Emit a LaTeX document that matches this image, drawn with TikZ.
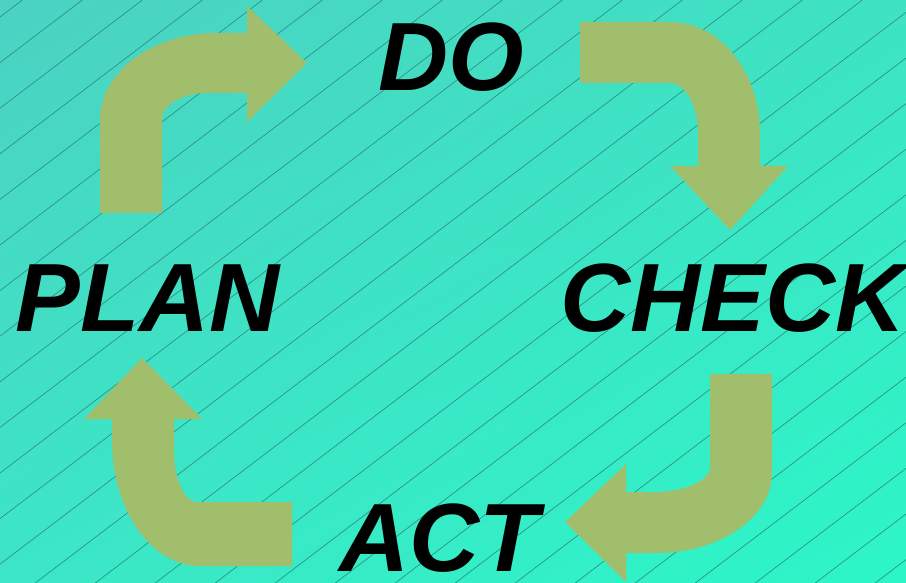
\documentclass[tikz,border=0pt]{standalone}
\usepackage{fontspec}
\usetikzlibrary{shadings}
\setmainfont{Liberation Sans}
\definecolor{bgTL}{HTML}{4BD2C2}
\definecolor{bgTR}{HTML}{3EE3C3}
\definecolor{bgBL}{HTML}{3CE6C6}
\definecolor{bgBR}{HTML}{2CF6C8}
\definecolor{arrowc}{HTML}{A1BE6C}
\definecolor{linec}{HTML}{2A8A80}
\tikzset{
  lbl/.style={anchor=base, inner sep=0pt, text depth=0pt, font=\fontsize{97}{97}\selectfont\bfseries\itshape, text=black},
  bgline/.style={draw=linec, line width=0.6pt},
  bigarrow/.style={fill=arrowc, draw=none}
}
\begin{document}
\begin{tikzpicture}[x=1pt,y=-1pt]
\useasboundingbox (0,0) rectangle (906,583);
\shade[upper left=bgTL, upper right=bgTR, lower left=bgBL, lower right=bgBR] (0,0) rectangle (906,583);
\begin{scope}
\clip (0,0) rectangle (906,583);
\foreach \k in {0,...,28} \draw[bgline] (0,{17+45.6*\k}) -- (906,{17+45.6*\k-688.6});
\end{scope}
% top-left arrow (PLAN -> DO)
\fill[bigarrow] (100,213) -- (100,120) .. controls (100,72) and (152,33) .. (217,33) -- (247,33) -- (247,6) -- (307,63) -- (247,122) -- (247,93) -- (207,93) .. controls (182,93) and (162,106) .. (162,118) -- (162,213) -- cycle;
% top-right arrow (DO -> CHECK)
\fill[bigarrow] (580,22) -- (670,22) .. controls (720,22) and (760,72) .. (760,133) -- (760,166) -- (788,166) -- (730,230) -- (670,166) -- (698,166) -- (698,133) .. controls (698,105) and (685,83) .. (670,83) -- (580,83) -- cycle;
% bottom-right arrow (CHECK -> ACT)
\fill[bigarrow] (710,374) -- (772,374) -- (772,473) .. controls (772,517) and (720,553) .. (657,553) -- (626,553) -- (626,582) -- (565,522) -- (626,464) -- (626,492) -- (653,492) .. controls (684,492) and (710,481) .. (710,467) -- cycle;
% bottom-left arrow (ACT -> PLAN)
\fill[bigarrow] (292,502) -- (197,502) .. controls (184,502) and (174,479) .. (174,450) -- (174,419) -- (202,419) -- (142,358) -- (84,419) -- (112,419) -- (112,440) .. controls (112,510) and (151,566) .. (200,566) -- (292,566) -- cycle;
% labels
\node[lbl] (do) at (451,91) {DO};
\node[lbl] (plan) at (148,331) {PLAN};
\node[lbl] (check) at (733,331) {CHECK};
\node[lbl] (act) at (439,571) {ACT};
\end{tikzpicture}
\end{document}
